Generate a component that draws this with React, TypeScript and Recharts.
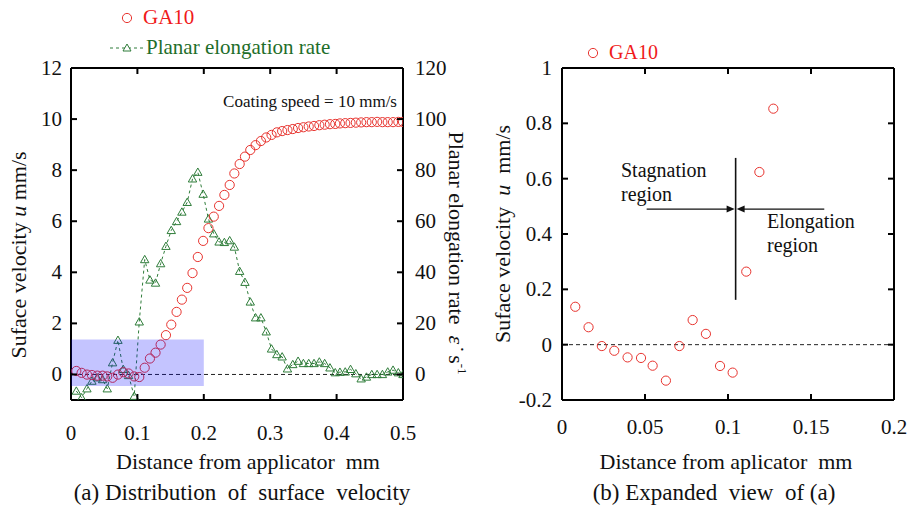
import React from 'react';
import {
  ComposedChart, Scatter, XAxis, YAxis, ReferenceLine, ReferenceArea, ReferenceDot
} from 'recharts';

// distance from applicator (mm), one entry per measured point
const distance = [
  0.008, 0.016, 0.024, 0.0315, 0.0395, 0.0476, 0.0546, 0.0626, 0.0707, 0.0787, 0.0867, 0.0952, 0.1028, 0.111, 0.1189, 0.1273,
  0.135, 0.143, 0.151, 0.159, 0.167, 0.175, 0.183, 0.191, 0.199, 0.207, 0.215, 0.223, 0.231, 0.239, 0.246, 0.254,
  0.262, 0.27, 0.278, 0.286, 0.294, 0.302, 0.31, 0.318, 0.326, 0.334, 0.342, 0.35, 0.358, 0.366, 0.374, 0.382,
  0.39, 0.398, 0.405, 0.413, 0.421, 0.429, 0.437, 0.445, 0.453, 0.461, 0.469, 0.477, 0.485, 0.493, 0.5,
];

// GA10 surface velocity u (mm/s)
const velocity = [
  0.137, 0.063, -0.005, -0.022, -0.046, -0.048, -0.076, -0.13, -0.005, 0.089, 0.039, -0.077, -0.101, 0.264, 0.624, 0.853,
  1.17, 1.54, 1.95, 2.45, 2.93, 3.39, 3.97, 4.6, 5.23, 5.73, 6.18, 6.6, 7.03, 7.42, 7.87, 8.24,
  8.53, 8.79, 8.98, 9.14, 9.28, 9.38, 9.48, 9.53, 9.57, 9.61, 9.65, 9.68, 9.71, 9.73, 9.76, 9.78,
  9.8, 9.81, 9.83, 9.84, 9.85, 9.86, 9.87, 9.88, 9.88, 9.89, 9.88, 9.88, 9.88, 9.89, 9.89,
];

// planar elongation rate (1/s)
const elongation = [
  -6.5, -9.1, -5.6, -2.6, -1.3, -2, -5.6, 4.6, 13.4, 2, -0.4, -8.5, 20.6, 45, 37, 35.8,
  43.4, 50.2, 56.4, 59.9, 63.6, 67.4, 76.6, 79.2, 70.6, 60.9, 55.1, 51.9, 51.7, 52.4, 49.9, 40.4,
  36.1, 28.4, 22.2, 22.2, 16.7, 10, 7.8, 6.9, 2.2, 3.9, 5.2, 4.3, 4.3, 4.3, 4.9, 4.3,
  2.6, 0.7, 0.9, 1.0, 2, 0.3, -1.7, -1, 0, 0, 0, 1, 1.7, 0.7, 0,
];

const xTicksA = [0, 0.1, 0.2, 0.3, 0.4, 0.5];
const uTicksA = [0, 2, 4, 6, 8, 10, 12];
const rateTicks = [0, 20, 40, 60, 80, 100, 120];
const xTicksB = [0, 0.05, 0.1, 0.15, 0.2];
const uTicksB = [-0.2, 0, 0.2, 0.4, 0.6, 0.8, 1];

const velData = distance.map((x, i) => ({ x, u: velocity[i] }));
const rateData = distance.map((x, i) => ({ x, rate: elongation[i] }));
const velDataB = velData.filter((d) => d.x <= 0.2 && d.u <= 1);

const FONT = "'Liberation Serif', Tinos, 'Times New Roman', Times, 'Nimbus Roman', 'DejaVu Serif', serif";
const RED = '#e8342f';
const GREEN = '#2f7d3a';

const makeTick = (side: string, offset: number, showLabel: boolean) => (props: any) => {
  const { x, y, payload } = props;
  const len = 6;
  const label = String(payload.value);
  let line;
  let text = null;
  if (side === 'bottom') {
    line = <line x1={x} x2={x} y1={y} y2={y - len} stroke="#000" strokeWidth={2} />;
    if (showLabel) text = <text x={x} y={y + offset} textAnchor="middle" dominantBaseline="central">{label}</text>;
  } else if (side === 'top') {
    line = <line x1={x} x2={x} y1={y} y2={y + len} stroke="#000" strokeWidth={2} />;
  } else if (side === 'left') {
    line = <line x1={x} x2={x + len} y1={y} y2={y} stroke="#000" strokeWidth={2} />;
    if (showLabel) text = <text x={x - offset} y={y} textAnchor="end" dominantBaseline="central">{label}</text>;
  } else {
    line = <line x1={x} x2={x - len} y1={y} y2={y} stroke="#000" strokeWidth={2} />;
    if (showLabel) text = <text x={x + offset} y={y} textAnchor="start" dominantBaseline="central">{label}</text>;
  }
  return (
    <g fontFamily={FONT} fontSize={21} fill="#111">
      {line}
      {text}
    </g>
  );
};

const RedCircle = (props: any) => {
  const { cx, cy } = props;
  if (cx == null || cy == null) return null;
  return <circle cx={cx} cy={cy} r={4.6} fill="none" stroke={RED} strokeWidth={1} />;
};

const GreenTriangle = (props: any) => {
  const { cx, cy } = props;
  if (cx == null || cy == null) return null;
  const s = 4.2;
  return (
    <polygon
      points={`${cx},${cy - s} ${cx - s},${cy + s * 0.75} ${cx + s},${cy + s * 0.75}`}
      fill="none"
      stroke={GREEN}
      strokeWidth={1}
    />
  );
};

const ArrowHeads = (props: any) => {
  const { cx, cy } = props;
  if (cx == null || cy == null) return null;
  return (
    <g fill="#111">
      <polygon points={`${cx - 1},${cy} ${cx - 9},${cy - 3.5} ${cx - 9},${cy + 3.5}`} />
      <polygon points={`${cx + 1},${cy} ${cx + 9},${cy - 3.5} ${cx + 9},${cy + 3.5}`} />
    </g>
  );
};

const axisLine = { stroke: '#000', strokeWidth: 2 };

const abs = (left: number, top: number, extra: React.CSSProperties = {}): React.CSSProperties => ({
  position: 'absolute', left, top, fontFamily: FONT, whiteSpace: 'nowrap', lineHeight: 1, ...extra,
});

export default function App() {
  return (
    <div style={{ position: 'absolute', left: 0, top: 0, width: 909, height: 506, background: '#fff', overflow: 'hidden', fontFamily: FONT }}>
      {/* (a) distribution of surface velocity */}
      <div style={{ position: 'absolute', left: 0, top: 0 }}>
        <ComposedChart width={480} height={506} margin={{ top: 67, right: 76, bottom: 105, left: 70 }}>
          <XAxis xAxisId="b" dataKey="x" type="number" orientation="bottom" domain={[0, 0.5]} ticks={xTicksA}
            allowDataOverflow height={1} tickSize={0} tickMargin={0} interval={0} axisLine={axisLine}
            tickLine={false} tick={makeTick('bottom', 33, true)} />
          <XAxis xAxisId="t" dataKey="x" type="number" orientation="top" domain={[0, 0.5]} ticks={xTicksA}
            allowDataOverflow height={1} tickSize={0} tickMargin={0} interval={0} axisLine={axisLine}
            tickLine={false} tick={makeTick('top', 0, false)} />
          <YAxis yAxisId="u" type="number" orientation="left" domain={[-1, 12]} ticks={uTicksA}
            allowDataOverflow width={1} tickSize={0} tickMargin={0} interval={0} axisLine={axisLine}
            tickLine={false} tick={makeTick('left', 9, true)} />
          <YAxis yAxisId="r" type="number" orientation="right" domain={[-10, 120]} ticks={rateTicks}
            allowDataOverflow width={1} tickSize={0} tickMargin={0} interval={0} axisLine={axisLine}
            tickLine={false} tick={makeTick('right', 12, true)} />
          <ReferenceLine xAxisId="b" yAxisId="u" y={0} stroke="#222" strokeWidth={1} strokeDasharray="4 3" />
          <Scatter xAxisId="b" yAxisId="r" data={rateData} dataKey="rate" shape={<GreenTriangle />}
            line={{ stroke: GREEN, strokeWidth: 1, strokeDasharray: '3 3' }} lineType="joint"
            isAnimationActive={false} />
          <Scatter xAxisId="b" yAxisId="u" data={velData} dataKey="u" shape={<RedCircle />}
            isAnimationActive={false} />
          <ReferenceArea xAxisId="b" yAxisId="u" x1={0} x2={0.2} y1={-0.45} y2={1.37}
            fill="#0000ff" fillOpacity={0.23} stroke="none" zIndex={700} />
        </ComposedChart>
      </div>

      {/* (b) expanded view */}
      <div style={{ position: 'absolute', left: 480, top: 0 }}>
        <ComposedChart width={429} height={506} margin={{ top: 67, right: 14, bottom: 105, left: 81 }}>
          <XAxis xAxisId="b" dataKey="x" type="number" orientation="bottom" domain={[0, 0.2]} ticks={xTicksB}
            allowDataOverflow height={1} tickSize={0} tickMargin={0} interval={0} axisLine={axisLine}
            tickLine={false} tick={makeTick('bottom', 27, true)} />
          <XAxis xAxisId="t" dataKey="x" type="number" orientation="top" domain={[0, 0.2]} ticks={xTicksB}
            allowDataOverflow height={1} tickSize={0} tickMargin={0} interval={0} axisLine={axisLine}
            tickLine={false} tick={makeTick('top', 0, false)} />
          <YAxis yAxisId="u" type="number" orientation="left" domain={[-0.2, 1]} ticks={uTicksB}
            allowDataOverflow width={1} tickSize={0} tickMargin={0} interval={0} axisLine={axisLine}
            tickLine={false} tick={makeTick('left', 10, true)} />
          <YAxis yAxisId="r" type="number" orientation="right" domain={[-0.2, 1]} ticks={uTicksB}
            allowDataOverflow width={1} tickSize={0} tickMargin={0} interval={0} axisLine={axisLine}
            tickLine={false} tick={makeTick('right', 0, false)} />
          <ReferenceLine xAxisId="b" yAxisId="u" y={0} stroke="#222" strokeWidth={1} strokeDasharray="4 3" />
          <ReferenceLine xAxisId="b" yAxisId="u" stroke="#111" strokeWidth={1.6}
            segment={[{ x: 0.1046, y: 0.675 }, { x: 0.1046, y: 0.162 }]} />
          <ReferenceLine xAxisId="b" yAxisId="u" stroke="#111" strokeWidth={1.4}
            segment={[{ x: 0.051, y: 0.49 }, { x: 0.1, y: 0.49 }]} />
          <ReferenceLine xAxisId="b" yAxisId="u" stroke="#111" strokeWidth={1.4}
            segment={[{ x: 0.158, y: 0.49 }, { x: 0.109, y: 0.49 }]} />
          <ReferenceDot xAxisId="b" yAxisId="u" x={0.1046} y={0.49} shape={<ArrowHeads />} />
          <Scatter xAxisId="b" yAxisId="u" data={velDataB} dataKey="u" shape={<RedCircle />}
            isAnimationActive={false} />
        </ComposedChart>
      </div>

      {/* legends */}
      <svg style={{ position: 'absolute', left: 100, top: 6 }} width={50} height={55}>
        <circle cx={27} cy={12} r={4.6} fill="none" stroke={RED} strokeWidth={1} />
        <line x1={10} x2={43} y1={42} y2={42} stroke={GREEN} strokeWidth={1} strokeDasharray="3 3" />
        <polygon points="27,38 23,45 31,45" fill="#fff" stroke={GREEN} strokeWidth={1} />
      </svg>
      <div style={abs(143, 7, { fontSize: 21, color: '#f01a1a' })}>GA10</div>
      <div style={abs(146, 37, { fontSize: 21, color: '#1e6e2a' })}>Planar elongation rate</div>

      <svg style={{ position: 'absolute', left: 583, top: 43 }} width={20} height={20}>
        <circle cx={10} cy={10} r={4.6} fill="none" stroke={RED} strokeWidth={1} />
      </svg>
      <div style={abs(609, 42, { fontSize: 20, color: '#f01a1a' })}>GA10</div>

      {/* annotations */}
      <div style={abs(397, 101, { fontSize: 17, color: '#111', transform: 'translate(-100%, -50%)' })}>
        Coating speed = 10 mm/s
      </div>
      <div style={abs(621, 158, { fontSize: 20, color: '#111', lineHeight: '24px' })}>Stagnation<br />region</div>
      <div style={abs(767, 209, { fontSize: 20, color: '#111', lineHeight: '24px' })}>Elongation<br />region</div>

      {/* axis titles */}
      <div style={abs(19, 255, { fontSize: 22, color: '#111', transform: 'translate(-50%, -50%) rotate(-90deg)' })}>
        Suface velocity <i>u</i> mm/s
      </div>
      <div style={abs(457, 253, { fontSize: 22, color: '#111', transform: 'translate(-50%, -50%) rotate(90deg)' })}>
        Planar elongation rate&nbsp; <i>ε̇</i>&nbsp; s<sup style={{ fontSize: 13 }}>-1</sup>
      </div>
      <div style={abs(248, 462, { fontSize: 22, color: '#111', transform: 'translate(-50%, -50%)' })}>
        Distance from applicator&nbsp; mm
      </div>
      <div style={abs(242, 492, { fontSize: 23, color: '#111', transform: 'translate(-50%, -50%)' })}>
        (a) Distribution&nbsp; of&nbsp; surface&nbsp; velocity
      </div>

      <div style={abs(503, 234, { fontSize: 22, color: '#111', transform: 'translate(-50%, -50%) rotate(-90deg)' })}>
        Suface velocity&nbsp; <i>u</i>&nbsp; mm/s
      </div>
      <div style={abs(726, 462, { fontSize: 22, color: '#111', transform: 'translate(-50%, -50%)' })}>
        Distance from aplicator&nbsp; mm
      </div>
      <div style={abs(714, 492, { fontSize: 23, color: '#111', transform: 'translate(-50%, -50%)' })}>
        (b) Expanded&nbsp; view&nbsp; of (a)
      </div>
    </div>
  );
}
